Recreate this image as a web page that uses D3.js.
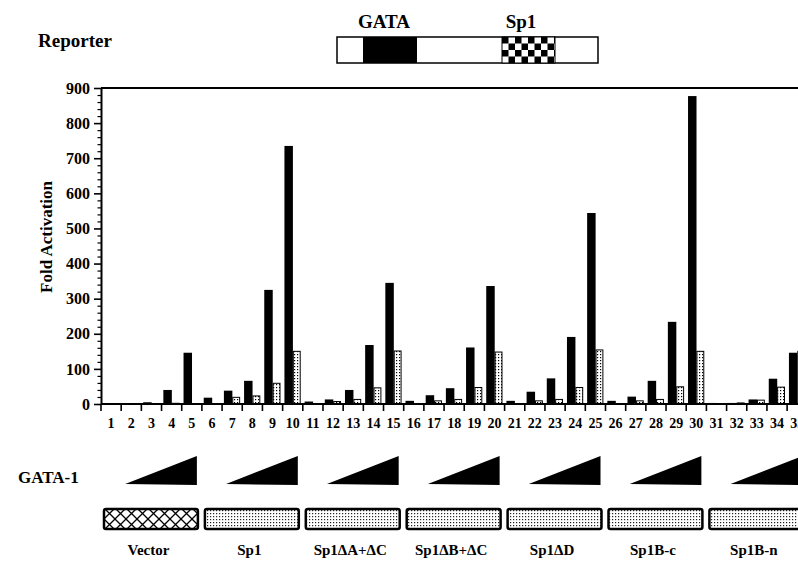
<!DOCTYPE html>
<html>
<head>
<meta charset="utf-8">
<script src="https://cdn.jsdelivr.net/npm/d3@7"></script>
<style>
    body { margin: 0; background: #fff; }
    svg text { font-family: "Liberation Serif", "Times New Roman", serif; font-weight: bold; fill: #000; }
</style>
</head>
<body>
<div id="chart"></div>
<script>
// lane numbers under the x axis
let lanes = ['1', '2', '3', '4', '5', '6', '7', '8', '9', '10',
    '11', '12', '13', '14', '15', '16', '17', '18', '19', '20',
    '21', '22', '23', '24', '25', '26', '27', '28', '29', '30',
    '31', '32', '33', '34', '35'];

// fold activation, solid black bars
let solidValues = [2, 1, 5, 40, 146, 18, 38, 66, 325, 735,
    7, 13, 40, 168, 345, 9, 25, 45, 161, 336,
    9, 35, 73, 191, 544, 9, 21, 66, 234, 877,
    3, 3, 13, 72, 146];

// fold activation, stippled bars
let dottedValues = [0, 0, 1, 2, 1, 1, 19, 23, 59, 150,
    1, 7, 13, 46, 151, 1, 9, 13, 47, 148,
    0, 9, 13, 47, 154, 1, 9, 13, 49, 150,
    1, 3, 11, 48, 150];

let yTicks = [0, 100, 200, 300, 400, 500, 600, 700, 800, 900];

let groupNames = ['Vector', 'Sp1', 'Sp1\u0394A+\u0394C', 'Sp1\u0394B+\u0394C', 'Sp1\u0394D', 'Sp1B-c', 'Sp1B-n'];
let groupFills = ['hatch', 'stipple', 'stipple', 'stipple', 'stipple', 'stipple', 'stipple'];

let lanesPerGroup = 5;

function make_patterns(svg) {
    let defs = svg.append('defs');

    let dots = defs.append('pattern')
        .attr('id', 'dots')
        .attr('patternUnits', 'userSpaceOnUse')
        .attr('width', 3).attr('height', 3);
    dots.append('rect').attr('width', 3).attr('height', 3).attr('fill', '#fff');
    dots.append('rect').attr('width', 1.2).attr('height', 1.2).attr('fill', '#000');

    let stipple = defs.append('pattern')
        .attr('id', 'stipple')
        .attr('patternUnits', 'userSpaceOnUse')
        .attr('width', 3).attr('height', 3);
    stipple.append('rect').attr('width', 3).attr('height', 3).attr('fill', '#fff');
    stipple.append('rect').attr('width', 1.2).attr('height', 1.2).attr('fill', '#222');

    let hatch = defs.append('pattern')
        .attr('id', 'hatch')
        .attr('patternUnits', 'userSpaceOnUse')
        .attr('x', 104).attr('y', 508)
        .attr('width', 11).attr('height', 11);
    hatch.append('rect').attr('width', 11).attr('height', 11).attr('fill', '#fff');
    hatch.append('path')
        .attr('d', 'M0,0L11,11M0,11L11,0')
        .attr('stroke', '#000')
        .attr('stroke-width', 1.3);

    let checker = defs.append('pattern')
        .attr('id', 'checker')
        .attr('patternUnits', 'userSpaceOnUse')
        .attr('x', 502).attr('y', 37)
        .attr('width', 13).attr('height', 13);
    checker.append('rect').attr('width', 13).attr('height', 13).attr('fill', '#fff');
    checker.append('rect').attr('width', 6.5).attr('height', 6.5).attr('fill', '#000');
    checker.append('rect').attr('x', 6.5).attr('y', 6.5).attr('width', 6.5).attr('height', 6.5).attr('fill', '#000');
}

function make_reporter(svg) {
    svg.append('text')
        .attr('x', 38).attr('y', 47)
        .style('font-size', '19px')
        .text('Reporter');

    let box = svg.append('g');
    box.append('rect')
        .attr('x', 337).attr('y', 37).attr('width', 261).attr('height', 26)
        .attr('fill', '#fff').attr('stroke', '#000').attr('stroke-width', 1.5);
    box.append('rect')
        .attr('x', 363).attr('y', 37).attr('width', 54).attr('height', 26)
        .attr('fill', '#000');
    box.append('rect')
        .attr('x', 502).attr('y', 37).attr('width', 53).attr('height', 26)
        .attr('fill', 'url(#checker)').attr('stroke', '#000').attr('stroke-width', 1);

    box.append('text')
        .attr('x', 384).attr('y', 28)
        .style('font-size', '19px')
        .style('text-anchor', 'middle')
        .text('GATA');
    box.append('text')
        .attr('x', 521).attr('y', 28)
        .style('font-size', '19px')
        .style('text-anchor', 'middle')
        .text('Sp1');
}

function make_axes(svg, x, y, chartRight) {
    let yAxis = d3.axisLeft(y)
        .tickValues(yTicks)
        .tickSizeInner(7).tickSizeOuter(0).tickPadding(4);

    let minorTicks = d3.range(0, 901, 20).filter(function (v) {
        return v % 100 !== 0;
    });
    let yMinor = d3.axisLeft(y)
        .tickValues(minorTicks)
        .tickSize(3.5)
        .tickFormat('');

    let x0 = x.range()[0];

    let minor = svg.append('g')
        .attr('transform', 'translate(' + x0 + ',0)')
        .call(yMinor);
    minor.select('.domain').remove();
    minor.selectAll('line').attr('stroke-width', 1.2);

    let ya = svg.append('g')
        .attr('class', 'y axis')
        .attr('transform', 'translate(' + x0 + ',0)')
        .call(yAxis);
    ya.select('.domain').attr('stroke-width', 2);
    ya.selectAll('line').attr('stroke-width', 1.6);
    ya.selectAll('text')
        .style('font-size', '16px')
        .style('font-family', '"Liberation Serif", serif')
        .style('font-weight', 'bold');

    // top frame line
    svg.append('line')
        .attr('x1', x0).attr('x2', chartRight)
        .attr('y1', y(900)).attr('y2', y(900))
        .attr('stroke', '#000').attr('stroke-width', 2);

    // x axis: labels at lane centres, ticks at lane boundaries
    let xa = svg.append('g')
        .attr('class', 'x axis')
        .attr('transform', 'translate(0,' + y(0) + ')')
        .call(d3.axisBottom(x).tickSize(0).tickPadding(14));
    xa.select('.domain').remove();
    xa.selectAll('text')
        .style('font-size', '14px')
        .style('font-family', '"Liberation Serif", serif')
        .style('font-weight', 'bold');

    let bounds = lanes.map(function (d) {
        return x(d);
    });
    bounds.push(x(lanes[lanes.length - 1]) + x.bandwidth());

    svg.append('g').selectAll('line').data(bounds)
        .enter()
        .append('line')
        .attr('x1', function (d) { return d; })
        .attr('x2', function (d) { return d; })
        .attr('y1', y(0))
        .attr('y2', y(0) + 7)
        .attr('stroke', '#000')
        .attr('stroke-width', 1.6);

    svg.append('line')
        .attr('x1', x0).attr('x2', chartRight)
        .attr('y1', y(0)).attr('y2', y(0))
        .attr('stroke', '#000').attr('stroke-width', 2);

    svg.append('text')
        .attr('transform', 'translate(52,237) rotate(-90)')
        .style('font-size', '17px')
        .style('text-anchor', 'middle')
        .text('Fold Activation');
}

function make_bars(svg, x, y) {
    let bw = x.bandwidth();

    svg.append('g').selectAll('rect').data(lanes)
        .enter()
        .append('rect')
        .attr('x', function (d) { return x(d) + bw * 0.09; })
        .attr('width', bw * 0.42)
        .attr('y', function (d, i) { return y(solidValues[i]); })
        .attr('height', function (d, i) { return y(0) - y(solidValues[i]); })
        .attr('fill', '#000');

    svg.append('g').selectAll('rect').data(lanes)
        .enter()
        .append('rect')
        .attr('x', function (d) { return x(d) + bw * 0.53; })
        .attr('width', bw * 0.34)
        .attr('y', function (d, i) { return y(dottedValues[i]); })
        .attr('height', function (d, i) { return y(0) - y(dottedValues[i]); })
        .attr('fill', 'url(#dots)')
        .attr('stroke', '#000')
        .attr('stroke-width', 1);
}

function make_groups(svg, x) {
    let bw = x.bandwidth();

    let groups = groupNames.map(function (name, g) {
        let first = lanes[g * lanesPerGroup],
            second = lanes[g * lanesPerGroup + 1],
            last = lanes[g * lanesPerGroup + lanesPerGroup - 1];
        return {
            name: name,
            fill: groupFills[g],
            left: x(first),
            wedgeLeft: x(second) + 4,
            right: x(last) + bw
        };
    });

    svg.append('text')
        .attr('x', 18).attr('y', 483)
        .style('font-size', '17px')
        .text('GATA-1');

    // GATA-1 dose wedges
    svg.append('g').selectAll('path').data(groups)
        .enter()
        .append('path')
        .attr('d', function (d) {
            let r = d.right - 5;
            return 'M' + d.wedgeLeft + ',484L' + r + ',456L' + r + ',485Z';
        })
        .attr('fill', '#000');

    svg.append('g').selectAll('rect').data(groups)
        .enter()
        .append('rect')
        .attr('x', function (d) { return d.left + 3; })
        .attr('y', 509)
        .attr('width', function (d) { return d.right - d.left - 7; })
        .attr('height', 20)
        .attr('rx', 2)
        .attr('fill', function (d) { return 'url(#' + d.fill + ')'; })
        .attr('stroke', '#000')
        .attr('stroke-width', 2.5);

    svg.append('g').selectAll('text').data(groups)
        .enter()
        .append('text')
        .attr('x', function (d) { return (d.left + d.right) / 2 - 3; })
        .attr('y', 555)
        .style('font-size', '15px')
        .style('text-anchor', 'middle')
        .text(function (d) { return d.name; });
}

function foldchart(anchor, svgWidth = 798, svgHeight = 565) {
    let plotLeft = 101,
        laneWidth = 20.18,
        plotTop = 88,
        plotBottom = 404;

    let x = d3.scaleBand()
        .domain(lanes)
        .range([plotLeft, plotLeft + laneWidth * lanes.length])
        .padding(0);

    let y = d3.scaleLinear()
        .domain([0, 900])
        .range([plotBottom, plotTop]);

    let svg = d3.select(anchor).append('svg')
        .attr('width', svgWidth)
        .attr('height', svgHeight)
        .style('display', 'block')
        .style('background', '#fff');

    make_patterns(svg);
    make_reporter(svg);
    make_bars(svg, x, y);
    make_axes(svg, x, y, svgWidth);
    make_groups(svg, x);
}

foldchart('#chart');
</script>
</body>
</html>
